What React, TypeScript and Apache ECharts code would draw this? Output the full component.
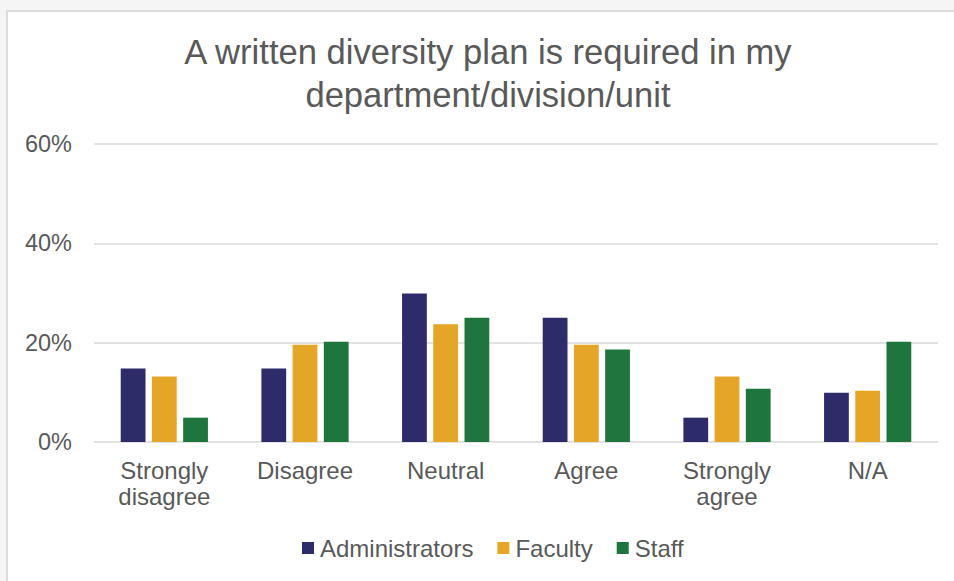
import React, { useEffect, useRef } from "react";
import * as echarts from "echarts";

const categories = ["Strongly\ndisagree", "Disagree", "Neutral", "Agree", "Strongly\nagree", "N/A"];
const administrators = [14.8, 14.8, 29.9, 25.0, 4.9, 9.9];
const faculty = [13.2, 19.6, 23.7, 19.6, 13.2, 10.3];
const staff = [4.9, 20.2, 25.0, 18.6, 10.7, 20.2];
const yTicks = { min: 0, max: 60, interval: 20 };
const titleLines = ["A written diversity plan is required in my", "department/division/unit"];

const FONT = "'Liberation Sans', Arial, sans-serif";
const TEXT = "#595959";

export default function App() {
  const ref = useRef<HTMLDivElement>(null);
  useEffect(() => {
    if (!ref.current) return;
    const chart = echarts.init(ref.current, undefined, { renderer: "svg" });
    chart.setOption({
      animation: false,
      textStyle: { fontFamily: FONT },
      title: {
        text: titleLines.join("\n"),
        left: 483,
        top: 25,
        textAlign: "center",
        textStyle: { fontFamily: FONT, fontSize: 34.6, fontWeight: "normal", color: TEXT, lineHeight: 43 },
      },
      legend: {
        bottom: 21,
        left: 302,
        padding: 0,
        itemWidth: 12,
        itemHeight: 12,
        itemGap: 24,
        icon: "rect",
        textStyle: { fontFamily: FONT, fontSize: 24, color: TEXT, padding: [0, 0, 0, 1] },
        data: ["Administrators", "Faculty", "Staff"],
      },
      grid: { left: 94, right: 16, top: 144, bottom: 139, containLabel: false },
      xAxis: {
        type: "category",
        data: categories,
        axisLine: { show: false },
        axisTick: { show: false },
        axisLabel: { fontFamily: FONT, fontSize: 24, color: TEXT, lineHeight: 26, margin: 15, interval: 0 },
      },
      yAxis: {
        type: "value",
        min: yTicks.min,
        max: yTicks.max,
        interval: yTicks.interval,
        axisLine: { show: false },
        axisTick: { show: false },
        axisLabel: { fontFamily: FONT, fontSize: 23.5, color: TEXT, formatter: "{value}%", margin: 22 },
        splitLine: { lineStyle: { color: "#d9d9d9", width: 1.5 } },
      },
      series: [
        { name: "Administrators", type: "bar", data: administrators, itemStyle: { color: "#2E2B6B" }, barGap: "26%", barCategoryGap: "38%" },
        { name: "Faculty", type: "bar", data: faculty, itemStyle: { color: "#E5A526" } },
        { name: "Staff", type: "bar", data: staff, itemStyle: { color: "#1E763E" } },
      ],
    });
    return () => chart.dispose();
  }, []);
  return (
    <div style={{ position: "fixed", left: 0, top: 0, width: 954, height: 581, background: "#f5f5f5", overflow: "hidden" }}>
      <div
        style={{
          position: "absolute",
          left: 6,
          top: 10,
          right: 0,
          bottom: 0,
          background: "#ffffff",
          borderTop: "2px solid #dcdcdc",
          borderLeft: "2px solid #dcdcdc",
        }}
      />
      <div ref={ref} style={{ position: "absolute", left: 0, top: 0, width: 954, height: 581 }} />
    </div>
  );
}
